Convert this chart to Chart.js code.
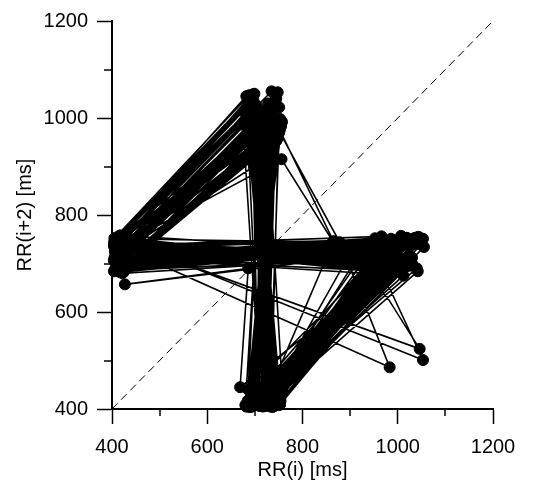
<!DOCTYPE html>
<html>
<head>
<meta charset="utf-8">
<script src="https://cdn.jsdelivr.net/npm/chart.js@4.4.1/dist/chart.umd.min.js"></script>
<style>
  html, body { margin: 0; padding: 0; background: #fff; }
</style>
</head>
<body>
<canvas id="poincare" width="537" height="482"></canvas>
<script>
// first run: RR(i) and RR(i+2) in ms, in recording order (each point joined to the next)
var rrI = [
  412, 718, 724, 988, 408, 725, 716, 1002, 415, 712, 686, 975, 440, 730, 708, 1010,
  418, 705, 722, 965, 406, 722, 735, 995, 413, 740, 712, 1020, 409, 744, 726, 982,
  420, 728, 700, 1030, 411, 700, 718, 958, 407, 735, 729, 1005, 416, 710, 749, 972,
  427, 686, 669, 1000,
  422, 722, 715, 990, 425, 745, 705, 1040, 409, 690, 725, 950, 414, 719, 733, 998,
  405, 683, 711, 1015, 418, 708, 720, 980, 410, 983, 893,
  422, 715, 680, 968, 408, 738, 727, 1025, 413, 702, 716, 960, 417, 724, 758, 993,
  438, 713, 709, 985, 411, 748, 721, 1053, 419, 751, 731, 970, 409, 729, 714, 1000,
  415, 748, 878,
  404, 734, 706, 1018, 420, 698, 723, 900, 412, 721, 719, 996, 408, 1046, 925,
  416, 711, 704, 975, 410, 727, 728, 1003, 423, 1053, 953,
  407, 736, 717, 1012, 414, 675, 712, 986, 418, 751, 734, 1022, 409, 695, 708, 952,
  412, 752, 865, 717, 976,
  405, 710, 741, 980, 421, 739, 713, 1028, 410, 714, 720, 970, 416, 726, 703, 1006,
  408, 735, 732, 1055, 413, 734, 718, 966, 419, 756, 864,
  411, 719, 710, 990, 406, 701, 725, 931, 417, 737, 715, 1030, 412, 712, 744, 983,
  409, 728, 707, 1010, 415, 687, 729, 976, 422, 744, 721, 1042
];
var rrI2 = [
  724, 988, 408, 725, 716, 1002, 415, 712, 686, 975, 440, 730, 708, 1010, 418, 705,
  722, 965, 406, 722, 735, 995, 413, 740, 712, 1020, 409, 744, 726, 982, 420, 728,
  700, 1030, 411, 700, 718, 958, 407, 735, 729, 1005, 416, 710, 749, 972, 422, 722,
  657, 690, 445, 702,
  715, 990, 425, 745, 705, 1040, 409, 690, 725, 950, 414, 719, 733, 998, 405, 683,
  711, 1015, 418, 708, 720, 980, 410, 726, 738, 486, 708,
  680, 968, 408, 738, 727, 1025, 413, 702, 716, 960, 417, 724, 758, 993, 438, 713,
  709, 985, 411, 748, 721, 1053, 419, 751, 731, 970, 409, 729, 714, 1000, 415, 748,
  740, 978, 744,
  706, 1018, 420, 698, 723, 900, 412, 721, 719, 996, 408, 742, 751, 524, 713,
  704, 975, 410, 727, 728, 1003, 423, 704, 750, 501, 712,
  717, 1012, 414, 675, 712, 986, 418, 751, 734, 1022, 409, 695, 708, 952, 412, 752,
  717, 976, 746, 405, 710,
  741, 980, 421, 739, 713, 1028, 410, 714, 720, 970, 416, 726, 703, 1006, 408, 735,
  732, 1055, 413, 734, 718, 966, 419, 756, 737, 915, 745,
  710, 990, 406, 701, 725, 931, 417, 737, 715, 1030, 412, 712, 744, 983, 409, 728,
  707, 1010, 415, 687, 729, 976, 422, 744, 721, 1042, 407, 684
];

// second run: plain RR interval series (ms), plotted as RR(i) against RR(i+2)
var rrTail = [
  407, 684, 747, 1012, 419, 742, 688, 962, 411, 697, 740, 1036, 426, 753, 694, 978,
  405, 688, 752, 1047, 416, 746, 684, 955, 409, 706, 743, 1021, 431, 738, 690, 990,
  404, 681, 736, 1008, 414, 749, 697, 968, 408, 693, 746, 1043, 421, 755, 685, 983,
  406, 686, 739, 1003, 428, 741, 693, 957, 410, 699, 754, 1050, 417, 747, 682, 973,
  405, 690, 744, 1018, 424, 752, 698, 995, 412, 685, 733, 1039, 407, 744, 689, 961,
  419, 703, 748, 1026, 410, 750, 695, 980, 433, 689, 741, 1002, 406, 743, 687, 966,
  415, 682, 753, 1045, 409, 754, 692, 988, 422, 696, 737, 1014, 404, 745, 684, 953,
  413, 688, 749, 1033, 427, 740, 696, 976, 408, 692, 742, 1007, 418, 757, 686, 992,
  405, 684, 745, 1024, 416, 748, 691, 959, 411, 697, 751, 1049, 425, 739, 683, 985,
  407, 687, 738, 1011, 414, 751, 699, 971, 409, 694, 747, 1037, 420, 746, 688, 963,
  406, 681, 743, 1019, 429, 753, 694, 998, 412, 690, 750, 1041, 408, 741, 685, 969,
  417, 700, 739, 1027, 410, 748, 689, 981, 418
];

// line of identity, both axes
var identity = [400, 1200];
var majorTicks = [400, 600, 800, 1000, 1200];
var minorTicks = [500, 700, 900, 1100];

var points = rrI.map(function (v, i) { return { x: v, y: rrI2[i] }; });
for (var i = 0; i + 2 < rrTail.length; i++) {
  points.push({ x: rrTail[i], y: rrTail[i + 2] });
}
var diag = identity.map(function (v) { return { x: v, y: v }; });

Chart.defaults.font.family = "'Liberation Sans', Arial, Helvetica, sans-serif";
Chart.defaults.color = '#000';

// short unlabelled ticks halfway between the labelled ones
var minorTickPlugin = {
  id: 'minorTicks',
  afterDraw: function (chart) {
    var ctx = chart.ctx, xs = chart.scales.x, ys = chart.scales.y;
    ctx.save();
    ctx.strokeStyle = '#000';
    ctx.lineWidth = 1.5;
    minorTicks.forEach(function (v) {
      var px = Math.round(xs.getPixelForValue(v));
      ctx.beginPath();
      ctx.moveTo(px, xs.top);
      ctx.lineTo(px, xs.top + 7);
      ctx.stroke();
      var py = Math.round(ys.getPixelForValue(v));
      ctx.beginPath();
      ctx.moveTo(ys.right, py);
      ctx.lineTo(ys.right - 8, py);
      ctx.stroke();
    });
    ctx.restore();
  }
};

function axis(title, isX) {
  return {
    type: 'linear',
    position: isX ? 'bottom' : 'left',
    min: majorTicks[0],
    max: majorTicks[majorTicks.length - 1],
    afterBuildTicks: function (scale) {
      scale.ticks = majorTicks.map(function (v) { return { value: v }; });
    },
    ticks: {
      color: '#000',
      font: { size: 20 },
      padding: isX ? 11 : 9,
      maxRotation: 0,
      callback: function (v) { return String(v); }
    },
    grid: {
      drawOnChartArea: false,
      drawTicks: true,
      tickLength: 15,
      tickColor: '#000',
      tickWidth: 1.5
    },
    border: { display: true, color: '#000', width: 2 },
    title: {
      display: true,
      text: title,
      color: '#000',
      font: { size: 20 },
      padding: isX ? { top: 0, bottom: 0 } : { top: 13, bottom: 0 }
    },
    afterFit: function (scale) {
      if (isX) scale.height = 73; else scale.width = 112;
    }
  };
}

new Chart(document.getElementById('poincare'), {
  type: 'scatter',
  data: {
    datasets: [{
      data: points,
      showLine: true,
      borderColor: '#000',
      borderWidth: 1.6,
      pointRadius: 5.5,
      pointBorderWidth: 1,
      pointBackgroundColor: '#000',
      pointBorderColor: '#000',
      clip: false
    }, {
      data: diag,
      showLine: true,
      borderColor: '#000',
      borderWidth: 1,
      borderDash: [8, 5],
      pointRadius: 0
    }]
  },
  options: {
    responsive: false,
    animation: false,
    layout: { padding: { left: 0, right: 44, top: 16, bottom: 0 } },
    scales: {
      x: axis('RR(i) [ms]', true),
      y: axis('RR(i+2) [ms]', false)
    },
    plugins: {
      legend: { display: false },
      tooltip: { enabled: false }
    }
  },
  plugins: [minorTickPlugin]
});
</script>
</body>
</html>
